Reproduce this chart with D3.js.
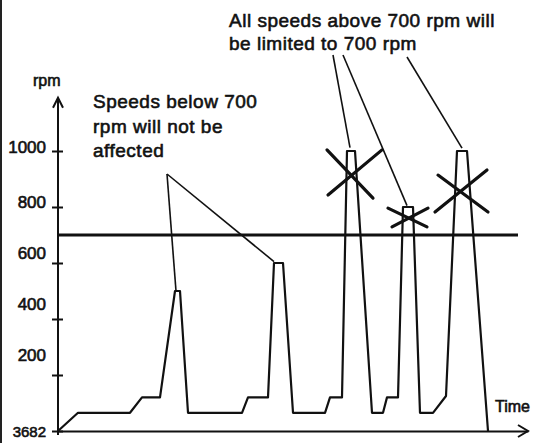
<!DOCTYPE html>
<html>
<head>
<meta charset="utf-8">
<script src="https://cdn.jsdelivr.net/npm/d3@7/dist/d3.min.js"></script>
<style>
  body { margin: 0; background: #fff; }
  svg text { font-family: "Liberation Sans", Arial, sans-serif; fill: #111; stroke: #111; stroke-width: 0.6px; }
</style>
</head>
<body>
<script>
// engine speed trace (time in arbitrary units, speed in rpm)
const traceTime = [0, 2.0, 7.2, 8.4, 10.2, 11.7, 12.2, 13.0, 18.4, 19.0, 21.0, 21.6, 22.5, 23.5,
  26.7, 27.2, 28.4, 28.9, 29.7, 31.4, 32.5, 32.9, 34.0, 34.5, 35.5, 36.2, 37.5, 38.8, 39.9, 40.9, 43.0];
const traceRpm = [0, 65, 65, 120, 120, 500, 500, 65, 65, 120, 120, 600, 600, 65,
  65, 120, 120, 1000, 1000, 65, 65, 120, 120, 800, 800, 65, 65, 125, 1000, 1000, 0];

const limitRpm = 700;
const tickValues = [0, 200, 400, 600, 800, 1000];
const tickLabels = ["3682", "200", "400", "600", "800", "1000"];

// peaks the callouts point at [time, rpm]
const belowTargets = [[11.8, 500], [21.6, 605]];
const aboveTargets = [[29.2, 1012], [34.9, 805], [40.4, 1010]];

// crossed-out peaks: each arm as [t1, rpm1, t2, rpm2]
const crossArms = [
  [26.9, 1004, 31.5, 832], [27.0, 843, 32.4, 1004],
  [33.0, 796, 36.9, 729], [33.4, 729, 37.0, 796],
  [38.0, 914, 43.0, 782], [37.7, 782, 42.9, 932]
];

const belowNote = ["Speeds below 700", "rpm will not be", "affected"];
const aboveNote = ["All speeds above 700 rpm will", "be limited to 700 rpm"];

const W = 537, H = 443;
const svg = d3.select("body").append("svg").attr("width", W).attr("height", H);

const x = d3.scaleLinear().domain([0, 47]).range([58, 528]);
const y = d3.scaleLinear().domain([0, 1000]).range([431, 151]);

// scan edge on the left
svg.append("line").attr("x1", 1).attr("x2", 1).attr("y1", 0).attr("y2", H)
  .attr("stroke", "#222").attr("stroke-width", 2);

// y axis with cross ticks
const yAxis = d3.axisLeft(y).tickValues(tickValues)
  .tickFormat((d, i) => tickLabels[i]).tickSizeInner(6).tickSizeOuter(0).tickPadding(6);
const gy = svg.append("g").attr("transform", `translate(${x(0)},0)`).call(yAxis);
gy.select(".domain").remove();
gy.selectAll(".tick line").attr("x2", 5).attr("x1", -6).attr("stroke", "#111").attr("stroke-width", 2);
const nudge = [1, -20, -15, -10, -5, -4];
gy.selectAll(".tick text")
  .attr("font-size", (d, i) => i === 0 ? 15 : 17)
  .attr("font-family", null)
  .attr("dy", "0.32em")
  .attr("y", (d, i) => nudge[i]);

const yTop = y(1190);
svg.append("line").attr("x1", x(0)).attr("x2", x(0)).attr("y1", y(0) + 4).attr("y2", yTop)
  .attr("stroke", "#111").attr("stroke-width", 2);
svg.append("path").attr("d", `M${x(0) - 5},${yTop + 10}L${x(0)},${yTop}L${x(0) + 5},${yTop + 10}`)
  .attr("fill", "none").attr("stroke", "#111").attr("stroke-width", 2);
svg.append("text").attr("x", 33).attr("y", 86).attr("font-size", 16).text("rpm");

// x axis with arrow
const gx = svg.append("g").attr("transform", `translate(0,${y(0)})`)
  .call(d3.axisBottom(x).tickValues([]).tickSizeOuter(0));
gx.select(".domain").attr("stroke", "#111").attr("stroke-width", 2);
const xEnd = x(47);
svg.append("path").attr("d", `M${xEnd - 10},${y(0) - 6}L${xEnd},${y(0)}L${xEnd - 10},${y(0) + 6}`)
  .attr("fill", "none").attr("stroke", "#111").attr("stroke-width", 2);
svg.append("text").attr("x", 495).attr("y", 412).attr("font-size", 16).text("Time");

// 700 rpm limit
svg.append("line").attr("x1", x(0)).attr("x2", x(46.0)).attr("y1", y(limitRpm)).attr("y2", y(limitRpm))
  .attr("stroke", "#111").attr("stroke-width", 3);

// speed trace
const trace = traceTime.map((t, i) => [t, traceRpm[i]]);
svg.append("path").datum(trace)
  .attr("d", d3.line().x(d => x(d[0])).y(d => y(d[1])))
  .attr("fill", "none").attr("stroke", "#111").attr("stroke-width", 2.2)
  .attr("stroke-linejoin", "round");

// crosses
svg.selectAll(".arm").data(crossArms).enter().append("line")
  .attr("x1", d => x(d[0])).attr("y1", d => y(d[1]))
  .attr("x2", d => x(d[2])).attr("y2", d => y(d[3]))
  .attr("stroke", "#111").attr("stroke-width", 3.2).attr("stroke-linecap", "round");

// callout lines
svg.selectAll(".below").data(belowTargets).enter().append("line")
  .attr("x1", 167).attr("y1", 174)
  .attr("x2", d => x(d[0])).attr("y2", d => y(d[1]))
  .attr("stroke", "#111").attr("stroke-width", 1.6);
const aboveStarts = [[333, 55], [343, 55], [407, 57]];
svg.selectAll(".above").data(aboveTargets).enter().append("line")
  .attr("x1", (d, i) => aboveStarts[i][0]).attr("y1", (d, i) => aboveStarts[i][1])
  .attr("x2", d => x(d[0])).attr("y2", d => y(d[1]))
  .attr("stroke", "#111").attr("stroke-width", 1.6);

// notes
svg.selectAll(".bnote").data(belowNote).enter().append("text")
  .attr("x", 93).attr("y", (d, i) => 108 + i * 24.5)
  .attr("font-size", 19).attr("letter-spacing", 0.5).text(d => d);
svg.selectAll(".anote").data(aboveNote).enter().append("text")
  .attr("x", 229).attr("y", (d, i) => 27 + i * 23)
  .attr("font-size", 19).attr("letter-spacing", 0.5).text(d => d);
</script>
</body>
</html>
